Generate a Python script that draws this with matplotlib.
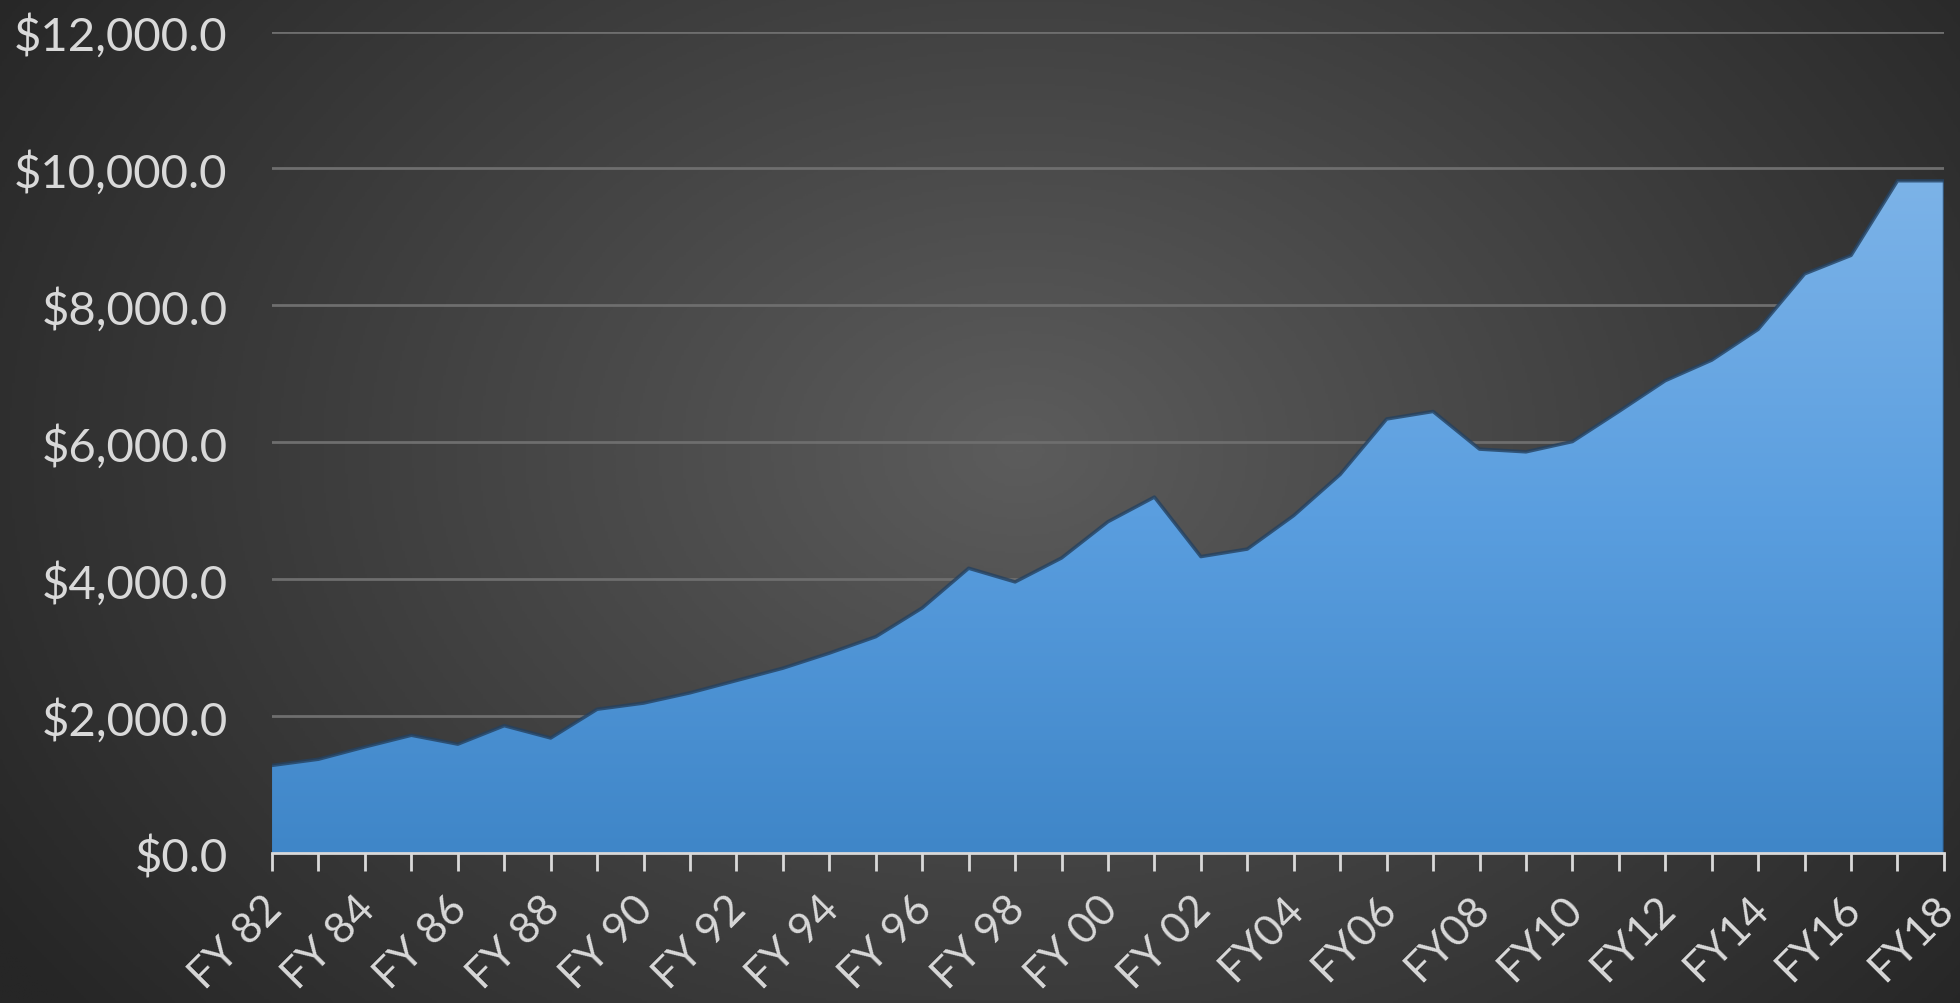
"""Area chart of annual spending, FY82 to FY18, on a dark radial background."""

import matplotlib
import numpy as np

matplotlib.use("Agg")

from matplotlib import pyplot as plt
from matplotlib.colors import LinearSegmentedColormap
from matplotlib.patches import Polygon
from matplotlib.ticker import FuncFormatter, MultipleLocator
from matplotlib.transforms import ScaledTranslation

years = list(range(1982, 2019))
spending = [
    1280, 1370, 1550, 1720, 1590, 1860, 1680, 2100, 2190, 2340,
    2520, 2700, 2920, 3160, 3580, 4160, 3960, 4310, 4840, 5200,
    4330, 4440, 4930, 5530, 6340, 6450, 5900, 5860, 6010, 6450,
    6900, 7200, 7650, 8460, 8730, 9820, 9820,
]
tick_labels = [
    "FY 82", "FY 84", "FY 86", "FY 88", "FY 90", "FY 92", "FY 94", "FY 96",
    "FY 98", "FY 00", "FY 02", "FY04", "FY06", "FY08", "FY10", "FY12",
    "FY14", "FY16", "FY18",
]

TEXT = "#d9d9d9"
FONT = ["Lato", "DejaVu Sans"]

plt.rcParams["font.family"] = FONT

fig = plt.figure(figsize=(19.6, 10.04), dpi=100)

# radial background
bg = fig.add_axes([0, 0, 1, 1], zorder=0)
yy, xx = np.mgrid[0:1:400j, 0:1:800j]
r = np.sqrt(((xx - 0.52) / 0.62) ** 2 + ((yy - 0.55) / 0.9) ** 2)
bg_cmap = LinearSegmentedColormap.from_list("bg", ["#5c5c5c", "#262626"])
bg.imshow(np.clip(r, 0, 1), cmap=bg_cmap, aspect="auto", extent=[0, 1, 0, 1],
          origin="lower", vmin=0, vmax=1)
bg.set_axis_off()

ax = fig.add_axes([0.1388, 0.1494, 0.8530, 0.8182], zorder=1)
ax.patch.set_alpha(0)

x = np.arange(len(years))
values = np.array(spending, dtype=float)

for level in range(2000, 12001, 2000):
    ax.axhline(level, color="#6e6e6e", lw=2.0, zorder=1)

# area with vertical gradient
verts = [(x[0], 0)] + list(zip(x, values)) + [(x[-1], 0)]
poly = Polygon(verts, closed=True, facecolor="none", edgecolor="none")
ax.add_patch(poly)
area_cmap = LinearSegmentedColormap.from_list("area", ["#3f86c8", "#5a9edf", "#7cb3e8"])
grad = np.linspace(0, 1, 256).reshape(-1, 1)
im = ax.imshow(grad, cmap=area_cmap, aspect="auto", origin="lower",
               extent=[x[0], x[-1], 0, values.max()], zorder=2)
im.set_clip_path(poly)
ax.plot(x, values, color="#25415f", lw=2.5, alpha=0.8, zorder=3)
ax.plot([x[-1], x[-1]], [0, values[-1]], color="#25415f", lw=2.5, alpha=0.8, zorder=3)

ax.set_xlim(x[0], x[-1])
ax.set_ylim(0, 12000)

ax.yaxis.set_major_locator(MultipleLocator(2000))
ax.yaxis.set_major_formatter(FuncFormatter(lambda v, _: f"${v:,.1f}"))
ax.tick_params(axis="y", length=0, pad=32, labelsize=34, labelcolor=TEXT)

ax.set_xticks(x, minor=True)
ax.set_xticks(x[::2])
ax.set_xticklabels(tick_labels, rotation=45, ha="right", va="top",
                   rotation_mode="anchor")
ax.tick_params(axis="x", which="both", direction="out", length=13, width=2,
               color=TEXT, labelsize=31, labelcolor=TEXT, pad=13)
shift = ScaledTranslation(-0.1, 0, fig.dpi_scale_trans)
for label in ax.get_xticklabels():
    label.set_transform(label.get_transform() + shift)

for side in ["left", "right", "top"]:
    ax.spines[side].set_visible(False)
ax.spines["bottom"].set_color(TEXT)
ax.spines["bottom"].set_linewidth(2)
ax.spines["bottom"].set_zorder(4)

fig.savefig("out.png", dpi=100)
